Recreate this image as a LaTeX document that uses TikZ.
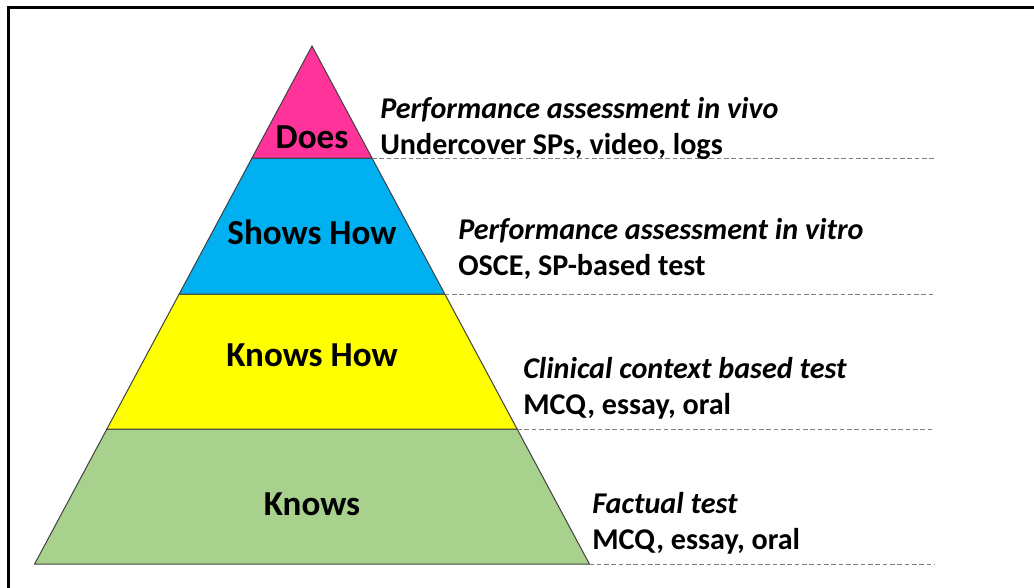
\documentclass[tikz,border=0pt]{standalone}
\usepackage{fontspec}
\setmainfont{Carlito}
\definecolor{doespink}{HTML}{FF3399}
\definecolor{showsblue}{HTML}{00B0F0}
\definecolor{knowshowyellow}{HTML}{FFFF00}
\definecolor{knowsgreen}{HTML}{A9D18E}
\definecolor{edgegray}{HTML}{404040}
\definecolor{dashgray}{HTML}{808080}
\begin{document}
\begin{tikzpicture}[x=0.75pt,y=-0.75pt,
  tier/.style={draw=edgegray,line width=0.75pt,line join=miter},
  tierlabel/.style={anchor=base,inner sep=0pt,font=\fontsize{26.3}{30}\selectfont\bfseries},
  headtext/.style={anchor=base west,inner sep=0pt,font=\fontsize{22.6}{27}\selectfont\bfseries\itshape},
  subtext/.style={anchor=base west,inner sep=0pt,font=\fontsize{22.6}{27}\selectfont\bfseries},
  guide/.style={draw=dashgray,line width=0.6pt,dash pattern=on 3.5pt off 2pt}]
\useasboundingbox (0,0) rectangle (1034,587);
% frame (cut off at right and bottom)
\draw[line width=2.25pt,line cap=rect] (1040,7) -- (8,7) -- (8,595);
% tier corners
\coordinate (A) at (312,46);
\coordinate (L1) at (252,158);   \coordinate (R1) at (372,158);
\coordinate (L2) at (179.2,294); \coordinate (R2) at (444.8,294);
\coordinate (L3) at (106.9,429); \coordinate (R3) at (517.1,429);
\coordinate (L4) at (34.6,564);  \coordinate (R4) at (589.4,564);
% tiers
\filldraw[tier,fill=knowsgreen] (L3) -- (R3) -- (R4) -- (L4) -- cycle;
\filldraw[tier,fill=knowshowyellow] (L2) -- (R2) -- (R3) -- (L3) -- cycle;
\filldraw[tier,fill=showsblue] (L1) -- (R1) -- (R2) -- (L2) -- cycle;
\filldraw[tier,fill=doespink] (A) -- (R1) -- (L1) -- cycle;
% dashed guide lines
\coordinate (E1) at (935,158);
\coordinate (E2) at (935,294);
\coordinate (E3) at (935,429);
\coordinate (E4) at (935,564);
\draw[guide] (R1) -- (E1);
\draw[guide] (R2) -- (E2);
\draw[guide] (R3) -- (E3);
\draw[guide] (R4) -- (E4);
% tier labels
\node[tierlabel] (does) at (312,148) {Does};
\node[tierlabel] (shows) at (312,244) {Shows How};
\node[tierlabel] (knowshow) at (312,366) {Knows How};
\node[tierlabel] (knows) at (312,515) {Knows};
% right texts
\node[headtext] (h1) at (380,118) {Performance assessment in vivo};
\node[subtext] (s1) at (380,154) {Undercover SPs, video, logs};
\node[headtext] (h2) at (458,239) {Performance assessment in vitro};
\node[subtext] (s2) at (458,275) {OSCE, SP-based test};
\node[headtext] (h3) at (523,378) {Clinical context based test};
\node[subtext] (s3) at (523,414) {MCQ, essay, oral};
\node[headtext] (h4) at (592,513) {Factual test};
\node[subtext] (s4) at (592,549) {MCQ, essay, oral};
\end{tikzpicture}
\end{document}
